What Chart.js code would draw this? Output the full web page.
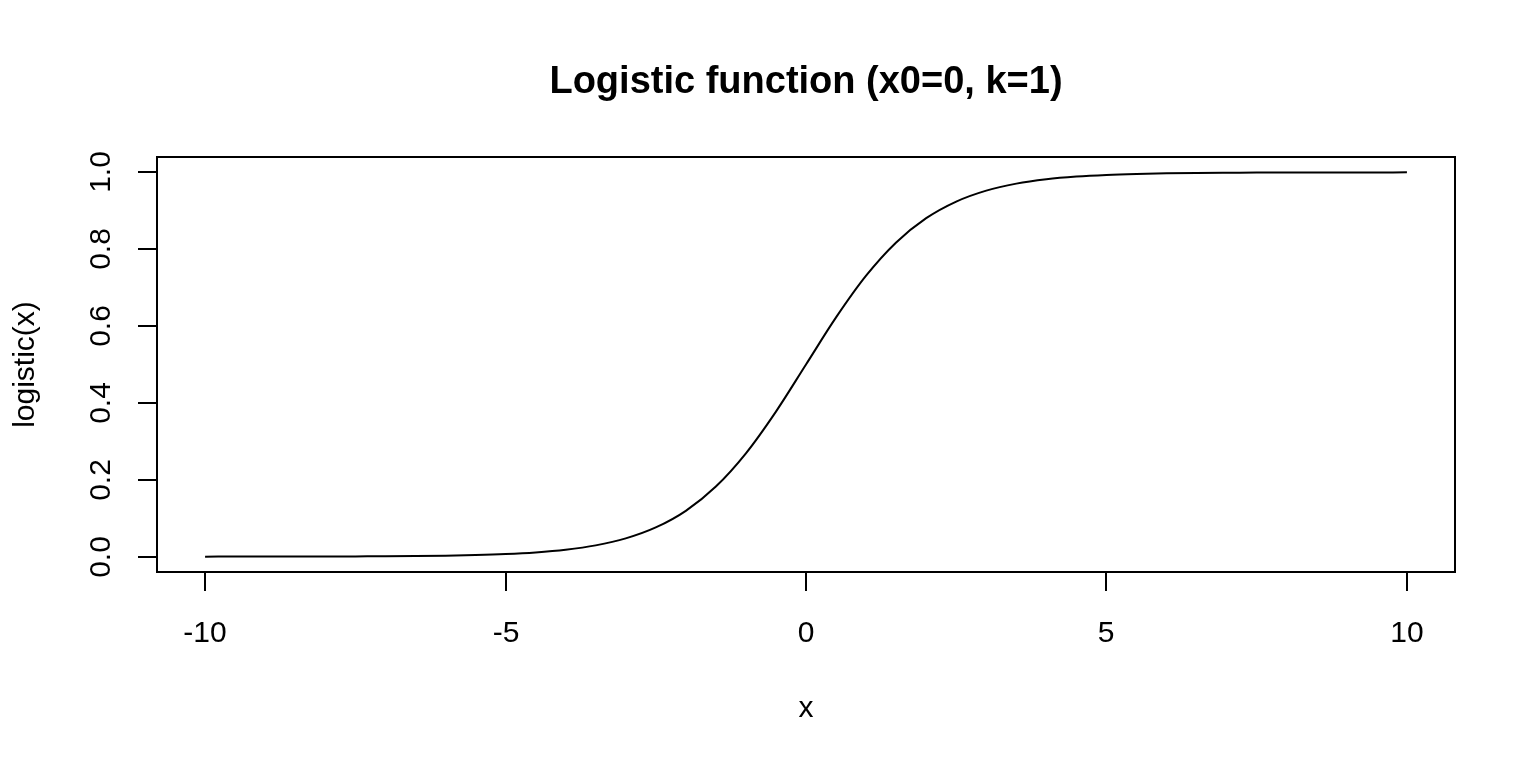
<!DOCTYPE html>
<html>
<head>
<meta charset="utf-8">
<title>Logistic function</title>
<script src="https://cdn.jsdelivr.net/npm/chart.js@4/dist/chart.umd.min.js"></script>
<style>
  body { margin: 0; background: #fff; }
  canvas { display: block; }
</style>
</head>
<body>
<canvas id="line-canvas" width="1536" height="768"></canvas>
<script>
// values
var xs = [-10, -9.5, -9, -8.5, -8, -7.5, -7, -6.5, -6, -5.5, -5, -4.5, -4, -3.5, -3, -2.5, -2, -1.5, -1, -0.5,
          0, 0.5, 1, 1.5, 2, 2.5, 3, 3.5, 4, 4.5, 5, 5.5, 6, 6.5, 7, 7.5, 8, 8.5, 9, 9.5, 10];
var ys = [0.0000, 0.0001, 0.0001, 0.0002, 0.0003, 0.0006, 0.0009, 0.0015, 0.0025, 0.0041, 0.0067, 0.0110, 0.0180, 0.0293, 0.0474, 0.0759, 0.1192, 0.1824, 0.2689, 0.3775,
          0.5000, 0.6225, 0.7311, 0.8176, 0.8808, 0.9241, 0.9526, 0.9707, 0.9820, 0.9890, 0.9933, 0.9959, 0.9975, 0.9985, 0.9991, 0.9994, 0.9997, 0.9998, 0.9999, 0.9999, 1.0000];

var xTicks = [-10, -5, 0, 5, 10];
var yTicks = [0.0, 0.2, 0.4, 0.6, 0.8, 1.0];
var yTickLabels = ["0.0", "0.2", "0.4", "0.6", "0.8", "1.0"];

var mainTitle = "Logistic function (x0=0, k=1)";
var xTitle = "x";
var yTitle = "logistic(x)";

var points = [];
for (var i = 0; i < xs.length; i++) {
  points.push({x: xs[i], y: ys[i]});
}

var FONT = "'Liberation Sans', Arial, Helvetica, sans-serif";

// base-graphics style frame, ticks and labels
var rFrame = {
  id: "rFrame",
  afterDraw: function(chart) {
    var ctx = chart.ctx;
    var a = chart.chartArea;
    var sx = chart.scales.x;
    var sy = chart.scales.y;
    var tick = 19;

    ctx.save();
    ctx.strokeStyle = "#000";
    ctx.lineWidth = 2;
    ctx.strokeRect(a.left, a.top, a.right - a.left, a.bottom - a.top);

    ctx.fillStyle = "#000";
    ctx.font = "30px " + FONT;
    ctx.textAlign = "center";
    ctx.textBaseline = "alphabetic";

    // x axis
    for (var i = 0; i < xTicks.length; i++) {
      var px = Math.round(sx.getPixelForValue(xTicks[i]));
      ctx.beginPath();
      ctx.moveTo(px, a.bottom);
      ctx.lineTo(px, a.bottom + tick);
      ctx.stroke();
      ctx.fillText(String(xTicks[i]), px, 642);
    }

    // y axis
    for (var j = 0; j < yTicks.length; j++) {
      var py = Math.round(sy.getPixelForValue(yTicks[j]));
      ctx.beginPath();
      ctx.moveTo(a.left, py);
      ctx.lineTo(a.left - tick, py);
      ctx.stroke();
      ctx.save();
      ctx.translate(110, py);
      ctx.rotate(-Math.PI / 2);
      ctx.fillText(yTickLabels[j], 0, 0);
      ctx.restore();
    }

    var cx = (a.left + a.right) / 2;
    var cy = (a.top + a.bottom) / 2;

    ctx.fillText(xTitle, cx, 717);

    ctx.save();
    ctx.translate(34, cy);
    ctx.rotate(-Math.PI / 2);
    ctx.fillText(yTitle, 0, 0);
    ctx.restore();

    ctx.font = "bold 38px " + FONT;
    ctx.fillText(mainTitle, cx, 93);
    ctx.restore();
  }
};

var ctx = document.getElementById("line-canvas");

var chartData = {
  datasets: [{
    label: yTitle,
    data: points,
    showLine: true,
    borderColor: "#000",
    borderWidth: 2,
    pointRadius: 0,
    fill: false,
    cubicInterpolationMode: "monotone"
  }]
};

var options = {
  responsive: false,
  animation: false,
  layout: {
    padding: {left: 157, top: 157, right: 81, bottom: 196}
  },
  plugins: {
    legend: {display: false},
    title: {display: false},
    tooltip: {enabled: false}
  },
  scales: {
    x: {type: "linear", display: false, min: -10.8, max: 10.8},
    y: {type: "linear", display: false, min: -0.04, max: 1.04}
  }
};

var chart = new Chart(ctx, {
  type: "scatter",
  data: chartData,
  options: options,
  plugins: [rFrame]
});
</script>
</body>
</html>
